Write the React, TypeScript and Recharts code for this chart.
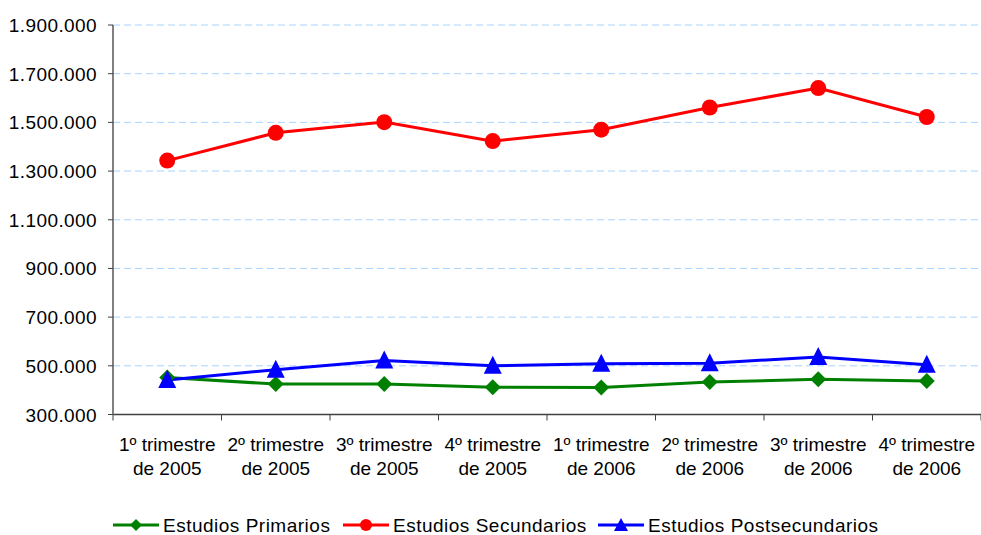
import React from 'react';
import { LineChart, Line, XAxis, YAxis, CartesianGrid, Legend } from 'recharts';

const quarterLabels = ['1º trimestre', '2º trimestre', '3º trimestre', '4º trimestre', '1º trimestre', '2º trimestre', '3º trimestre', '4º trimestre'];
const yearLabels = ['de 2005', 'de 2005', 'de 2005', 'de 2005', 'de 2006', 'de 2006', 'de 2006', 'de 2006'];
const primarios = [452000, 425000, 425000, 412000, 411000, 433000, 445000, 438000];
const secundarios = [1343000, 1457000, 1501000, 1423000, 1470000, 1561000, 1641000, 1522000];
const postsecundarios = [442000, 484000, 522000, 500000, 508000, 511000, 536000, 504000];
const yTicks = [300000, 500000, 700000, 900000, 1100000, 1300000, 1500000, 1700000, 1900000];
const seriesNames = ['Estudios Primarios', 'Estudios Secundarios', 'Estudios Postsecundarios'];

const data = quarterLabels.map((q, i) => ({
  x: i + 0.5,
  primarios: primarios[i],
  secundarios: secundarios[i],
  postsecundarios: postsecundarios[i],
}));

const W = 981;
const H = 535;
const LEFT = 113;
const RIGHT_M = 0;
const TOP = 25;
const XAXIS_H = 70;
const LEGEND_H = 30;
const BOTTOM_M = 535 - 414.5 - XAXIS_H - LEGEND_H;
const HALF_BAND = (W - LEFT - RIGHT_M) / quarterLabels.length / 2;
const FONT = 'Liberation Sans, Arial, sans-serif';

const fmt = (v: number) => v.toString().replace(/\B(?=(\d{3})+(?!\d))/g, '.');

const Diamond = (props: any) => {
  const { cx, cy, fill, key } = props;
  if (cx == null || cy == null) return null;
  const s = 8;
  return <polygon key={key} points={`${cx},${cy - s} ${cx + s},${cy} ${cx},${cy + s} ${cx - s},${cy}`} fill={fill} />;
};
const Circle = (props: any) => {
  const { cx, cy, fill, key } = props;
  if (cx == null || cy == null) return null;
  return <circle key={key} cx={cx} cy={cy} r={8} fill={fill} />;
};
const Triangle = (props: any) => {
  const { cx, cy, fill, key } = props;
  if (cx == null || cy == null) return null;
  return <polygon key={key} points={`${cx},${cy - 10} ${cx + 9},${cy + 8} ${cx - 9},${cy + 8}`} fill={fill} />;
};

const XTick = (props: any) => {
  const { x, y, payload } = props;
  const i = payload.value;
  return (
    <g>
      <line x1={x} y1={y} x2={x} y2={y + 6} stroke="#404040" strokeWidth={1} />
      {i < quarterLabels.length && (
        <text x={x + HALF_BAND} textAnchor="middle" fontFamily={FONT} fontSize={19} fill="#000">
          <tspan x={x + HALF_BAND} y={y + 36}>{quarterLabels[i]}</tspan>
          <tspan x={x + HALF_BAND} y={y + 60}>{yearLabels[i]}</tspan>
        </text>
      )}
    </g>
  );
};

const YTick = (props: any) => {
  const { y, payload } = props;
  return (
    <g>
      <line x1={LEFT - 5} y1={y} x2={LEFT} y2={y} stroke="#404040" strokeWidth={1} />
      <text x={LEFT - 16} y={y} dy={7} textAnchor="end" fontFamily={FONT} fontSize={19} letterSpacing={0.4} fill="#000">
        {fmt(payload.value)}
      </text>
    </g>
  );
};

const colors = ['#008000', '#FF0000', '#0000FF'];

const LegendContent = () => {
  const items = [
    { name: seriesNames[0], color: colors[0], shape: 'diamond', x: 113 },
    { name: seriesNames[1], color: colors[1], shape: 'circle', x: 343 },
    { name: seriesNames[2], color: colors[2], shape: 'triangle', x: 598 },
  ];
  return (
    <svg width={W} height={LEGEND_H} style={{ display: 'block' }}>
      {items.map((it) => {
        const cx = it.x + 23;
        const cy = 15;
        let marker;
        if (it.shape === 'diamond') marker = <polygon points={`${cx},${cy - 6} ${cx + 6},${cy} ${cx},${cy + 6} ${cx - 6},${cy}`} fill={it.color} />;
        else if (it.shape === 'circle') marker = <circle cx={cx} cy={cy} r={6} fill={it.color} />;
        else marker = <polygon points={`${cx},${cy - 7} ${cx + 7},${cy + 6} ${cx - 7},${cy + 6}`} fill={it.color} />;
        return (
          <g key={it.name}>
            <line x1={it.x} y1={cy} x2={it.x + 46} y2={cy} stroke={it.color} strokeWidth={3} />
            {marker}
            <text x={it.x + 50} y={cy + 7} fontFamily={FONT} fontSize={19} letterSpacing={0.5} fill="#000">{it.name}</text>
          </g>
        );
      })}
    </svg>
  );
};

export default function App() {
  return (
    <div style={{ position: 'absolute', left: 0, top: 0, width: W, height: H, background: '#fff', overflow: 'hidden' }}>
      <LineChart width={W} height={H} data={data} margin={{ top: TOP, right: RIGHT_M, left: 0, bottom: BOTTOM_M }}>
        <CartesianGrid horizontal vertical={false} stroke="#a8d4ff" strokeDasharray="7 4" strokeWidth={1} />
        <XAxis
          dataKey="x"
          type="number"
          domain={[0, 8]}
          ticks={[0, 1, 2, 3, 4, 5, 6, 7, 8]}
          interval={0}
          tick={<XTick />}
          tickLine={false}
          tickSize={0}
          tickMargin={0}
          height={XAXIS_H}
          axisLine={{ stroke: '#404040', strokeWidth: 1.5 }}
        />
        <YAxis
          domain={[300000, 1900000]}
          ticks={yTicks}
          interval={0}
          width={LEFT}
          tick={<YTick />}
          tickLine={false}
          axisLine={{ stroke: '#808080', strokeWidth: 2 }}
        />
        <Legend
          content={<LegendContent />}
          wrapperStyle={{ position: 'absolute', left: 0, top: 510, width: W, height: LEGEND_H }}
        />
        <Line dataKey="primarios" name={seriesNames[0]} stroke={colors[0]} strokeWidth={3} dot={<Diamond fill={colors[0]} />} fill={colors[0]} isAnimationActive={false} />
        <Line dataKey="secundarios" name={seriesNames[1]} stroke={colors[1]} strokeWidth={3} dot={<Circle fill={colors[1]} />} fill={colors[1]} isAnimationActive={false} />
        <Line dataKey="postsecundarios" name={seriesNames[2]} stroke={colors[2]} strokeWidth={3} dot={<Triangle fill={colors[2]} />} fill={colors[2]} isAnimationActive={false} />
      </LineChart>
    </div>
  );
}
